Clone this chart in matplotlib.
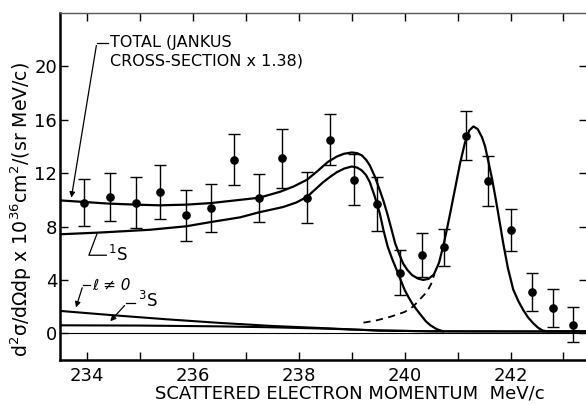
import matplotlib.pyplot as plt

plt.rcParams['font.family'] = ['DejaVu Sans']
plt.rcParams['mathtext.default'] = 'regular'

# measured points
momentum = [233.94, 234.43, 234.93, 235.37, 235.86, 236.33, 236.77, 237.24, 237.68, 238.15, 238.58,
            239.04, 239.48, 239.91, 240.33, 240.75, 241.16, 241.57, 242.0, 242.4, 242.8, 243.19]
cross = [9.8, 10.2, 9.8, 10.6, 8.85, 9.4, 13.0, 10.15, 13.1, 10.15, 14.5,
         11.5, 9.7, 4.55, 5.9, 6.45, 14.8, 11.4, 7.75, 3.1, 1.9, 0.65]
cross_err = [1.75, 1.8, 1.9, 2.0, 1.9, 1.8, 1.9, 1.8, 2.2, 1.9, 1.9,
             1.9, 2.0, 1.7, 1.65, 1.4, 1.85, 1.85, 1.6, 1.45, 1.4, 1.3]

# total (Jankus x 1.38)
total_x = [233.48, 233.94, 234.4, 234.92, 235.37, 235.87, 236.34, 236.89, 237.25, 237.64, 237.9,
           238.15, 238.35, 238.55, 238.72, 238.85, 239.0, 239.1, 239.19, 239.27, 239.34, 239.43,
           239.53, 239.6, 239.67, 239.75, 239.82, 239.9, 239.97, 240.05, 240.14, 240.25, 240.35,
           240.45, 240.55, 240.65, 240.75, 240.85, 240.95, 241.05, 241.14, 241.22, 241.3, 241.38,
           241.46, 241.52, 241.58, 241.65, 241.71, 241.78, 241.86, 241.95, 242.05, 242.15, 242.24,
           242.33, 242.43, 242.52, 242.61, 242.7, 243.45]
total_y = [9.96, 9.84, 9.72, 9.64, 9.59, 9.64, 9.76, 10.0, 10.16, 10.6, 11.0,
           11.5, 12.15, 12.85, 13.25, 13.45, 13.55, 13.5, 13.33, 13.0, 12.58, 11.8,
           10.71, 9.9, 8.97, 7.8, 6.73, 5.9, 5.23, 4.75, 4.36, 4.1, 4.0,
           4.08, 4.4, 5.3, 6.9, 8.8, 10.8, 12.8, 14.3, 15.2, 15.5, 15.3,
           14.7, 14.0, 12.9, 11.6, 10.3, 8.7, 6.8, 4.9, 3.3, 2.4, 1.75,
           1.2, 0.75, 0.42, 0.2, 0.15, 0.15]

# 1S component
s1_x = [233.48, 234.24, 235.19, 235.87, 236.34, 236.89, 237.25, 237.7, 237.95, 238.15, 238.3,
        238.46, 238.6, 238.72, 238.86, 239.0, 239.1, 239.19, 239.27, 239.34, 239.43, 239.53,
        239.6, 239.68, 239.77, 239.85, 240.0, 240.08, 240.16, 240.25, 240.33, 240.4, 240.48,
        240.6, 240.72]
s1_y = [7.42, 7.55, 7.76, 8.02, 8.34, 8.69, 9.07, 9.46, 9.8, 10.21, 10.75,
        11.33, 11.75, 12.08, 12.35, 12.5, 12.42, 12.2, 11.85, 11.33, 10.3, 8.97,
        7.7, 6.47, 5.5, 4.73, 3.24, 2.65, 2.12, 1.65, 1.24, 0.9, 0.62,
        0.32, 0.15]

# second peak below the total (dashed)
dash_x = [239.22, 239.45, 239.73, 240.0, 240.16, 240.3, 240.42, 240.5, 240.56]
dash_y = [0.8, 0.95, 1.24, 1.6, 2.0, 2.6, 3.1, 3.7, 4.4]

# l != 0 and 3S components
l_x = [233.48, 234.5, 235.5, 236.5, 237.5, 238.5, 239.5, 240.5, 243.45]
l_y = [1.68, 1.35, 1.05, 0.78, 0.55, 0.38, 0.2, 0.15, 0.13]
s3_x = [233.48, 235.0, 236.5, 237.5, 238.5, 239.5, 240.5, 243.45]
s3_y = [0.6, 0.58, 0.52, 0.45, 0.35, 0.22, 0.15, 0.13]

fig = plt.figure(figsize=(5.86, 4.05), dpi=100)
ax = fig.add_axes([60 / 586, 45 / 405, 527 / 586, 347 / 405])

ax.axhline(0, color='black', lw=0.8)
ax.plot(l_x, l_y, color='black', lw=1.5)
ax.plot(s3_x, s3_y, color='black', lw=1.5)
ax.plot(s1_x, s1_y, color='black', lw=1.6)
ax.plot(total_x, total_y, color='black', lw=1.6)
ax.plot(dash_x, dash_y, color='black', lw=1.3, ls=(0, (4, 3)))
ax.errorbar(momentum, cross, yerr=cross_err, fmt='o', color='black', ms=5.2,
            elinewidth=1, capsize=4, capthick=1)

ax.set_xlim(233.484, 243.446)
ax.set_ylim(-2, 24)
ax.set_xticks(range(234, 244))
ax.set_xticklabels(['234', '', '236', '', '238', '', '240', '', '242', ''])
ax.set_yticks([0, 4, 8, 12, 16, 20])
ax.tick_params(axis='x', direction='in', length=6, width=1, top=True, labelsize=13, pad=5)
ax.tick_params(axis='y', direction='in', length=6, width=1, right=True, labelsize=13, pad=2)
ax.spines['left'].set_linewidth(1.8)
ax.spines['bottom'].set_linewidth(1.8)
ax.spines['top'].set_linewidth(1.0)
ax.spines['top'].set_color('#555555')

ax.set_ylabel(r'd$^2\sigma$/d$\Omega$dp x 10$^{36}$cm$^2$/(sr MeV/c)', fontsize=13.6)
ax.yaxis.set_label_coords(-0.049, 0.435)
fig.text(155 / 586, 1 - 393 / 405, 'SCATTERED ELECTRON MOMENTUM  MeV/c', fontsize=13, va='center')

# labels with leader lines
ax.text(234.43, 21.77, 'TOTAL (JANKUS', fontsize=11.5, va='center')
ax.text(234.43, 20.43, 'CROSS-SECTION x 1.38)', fontsize=11.5, va='center')
ax.plot([234.39, 234.18], [21.77, 21.77], color='black', lw=0.9)
ax.annotate('', xy=(233.69, 9.96), xytext=(234.18, 21.77),
            arrowprops=dict(arrowstyle='-|>', color='black', lw=0.9, mutation_scale=8))

ax.text(234.4, 5.85, r'$^1$S', fontsize=12, va='center')
ax.plot([234.36, 234.03, 234.18], [5.85, 5.85, 7.42], color='black', lw=0.9)

ax.text(234.1, 3.6, 'ℓ ≠ 0', fontsize=11, va='center', style='italic')
ax.plot([234.05, 233.92], [3.61, 3.61], color='black', lw=0.9)
ax.annotate('', xy=(233.77, 1.74), xytext=(233.92, 3.61),
            arrowprops=dict(arrowstyle='-|>', color='black', lw=0.9, mutation_scale=8))

ax.text(234.95, 2.45, r'$^3$S', fontsize=12, va='center')
ax.plot([234.9, 234.74], [2.24, 2.24], color='black', lw=0.9)
ax.annotate('', xy=(234.4, 0.75), xytext=(234.74, 2.24),
            arrowprops=dict(arrowstyle='-|>', color='black', lw=0.9, mutation_scale=8))

plt.savefig('out.png', dpi=100)
